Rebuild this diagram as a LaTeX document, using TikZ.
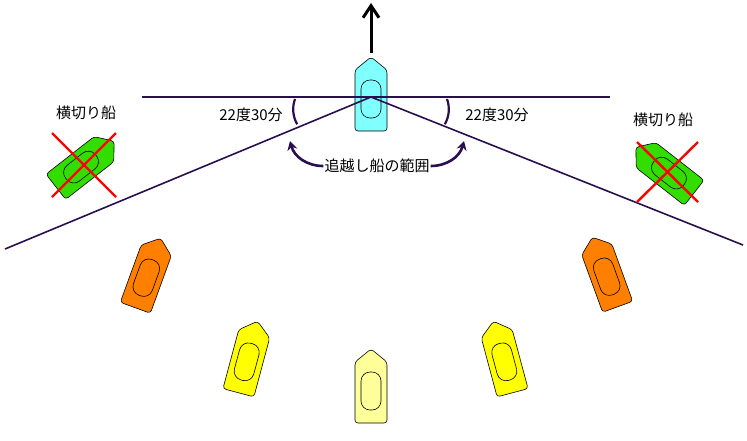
\documentclass[tikz,border=0pt]{standalone}
\usepackage{fontspec}
\newfontfamily\cjk{Noto Sans CJK JP}
\usetikzlibrary{arrows.meta}
\definecolor{lineP}{HTML}{2A0F50}
\definecolor{cyanB}{HTML}{80FFFF}
\definecolor{greenB}{HTML}{33DD00}
\definecolor{orangeB}{HTML}{FF8000}
\definecolor{yellowB}{HTML}{FFFF00}
\definecolor{paleY}{HTML}{FFFF99}
\begin{document}
\begin{tikzpicture}[x=1pt,y=-1pt,
  hull/.style={draw=black,line width=0.6pt},
  lbl/.style={font=\cjk\fontsize{15}{15}\selectfont,inner sep=1pt},
  sector/.style={draw=lineP,line width=1.6pt},
  cross/.style={draw=red,line width=2.4pt},
  curv/.style={draw=lineP,line width=2.6pt,-{Stealth[length=9pt,width=10pt]}},
  boat/.pic={
    \draw[hull,fill=#1,rounded corners=3pt] (-16,-24) -- (0,-37) -- (16,-24) -- (16,37) -- (-16,37) -- cycle;
    \draw[hull,rounded corners=9pt] (-10,-14) rectangle (10,24);
  }]
\useasboundingbox (0,0) rectangle (747,440);
\fill[white] (0,0) rectangle (747,440);
\coordinate (o) at (371,97);
\coordinate (wl) at (142,97);
\coordinate (wr) at (610,97);
\coordinate (dl) at (5,249);
\coordinate (dr) at (743,245);
\coordinate (a0) at (371,53);
\coordinate (a1) at (371,3);
\draw[-{Straight Barb[length=12pt,width=16pt]},line width=3pt] (a0) -- (a1);
\pic at (371,94) {boat=cyanB};
\draw[sector] (wl) -- (wr);
\draw[sector] (dl) -- (o) -- (dr);
\draw[draw=lineP,line width=2.2pt] (295,99) arc[start angle=200,end angle=150,radius=30];
\draw[draw=lineP,line width=2.2pt] (447,99) arc[start angle=-20,end angle=30,radius=30];
\node[lbl] (t1) at (251,115) {22度30分};
\node[lbl] (t2) at (497,115) {22度30分};
\node[lbl] (t3) at (377,166) {追越し船の範囲};
\draw[curv] (t3.west) to[out=180,in=-75] (290,141);
\draw[curv] (t3.east) to[out=0,in=-105] (464,141);
\node[lbl] (c1) at (86,113) {横切り船};
\node[lbl] (c2) at (663,120) {横切り船};
\pic[rotate=-52] at (85,164) {boat=greenB};
\pic[rotate=52] at (665,170) {boat=greenB};
\draw[cross] (52,133) -- (116,197);
\draw[cross] (116,133) -- (52,197);
\draw[cross] (637,142) -- (698,202);
\draw[cross] (698,142) -- (637,202);
\pic[rotate=-20] at (148,273) {boat=orangeB};
\pic[rotate=20] at (605,272) {boat=orangeB};
\pic[rotate=-15] at (248,357) {boat=yellowB};
\pic[rotate=15] at (503,357) {boat=yellowB};
\pic at (371,386) {boat=paleY};
\end{tikzpicture}
\end{document}
